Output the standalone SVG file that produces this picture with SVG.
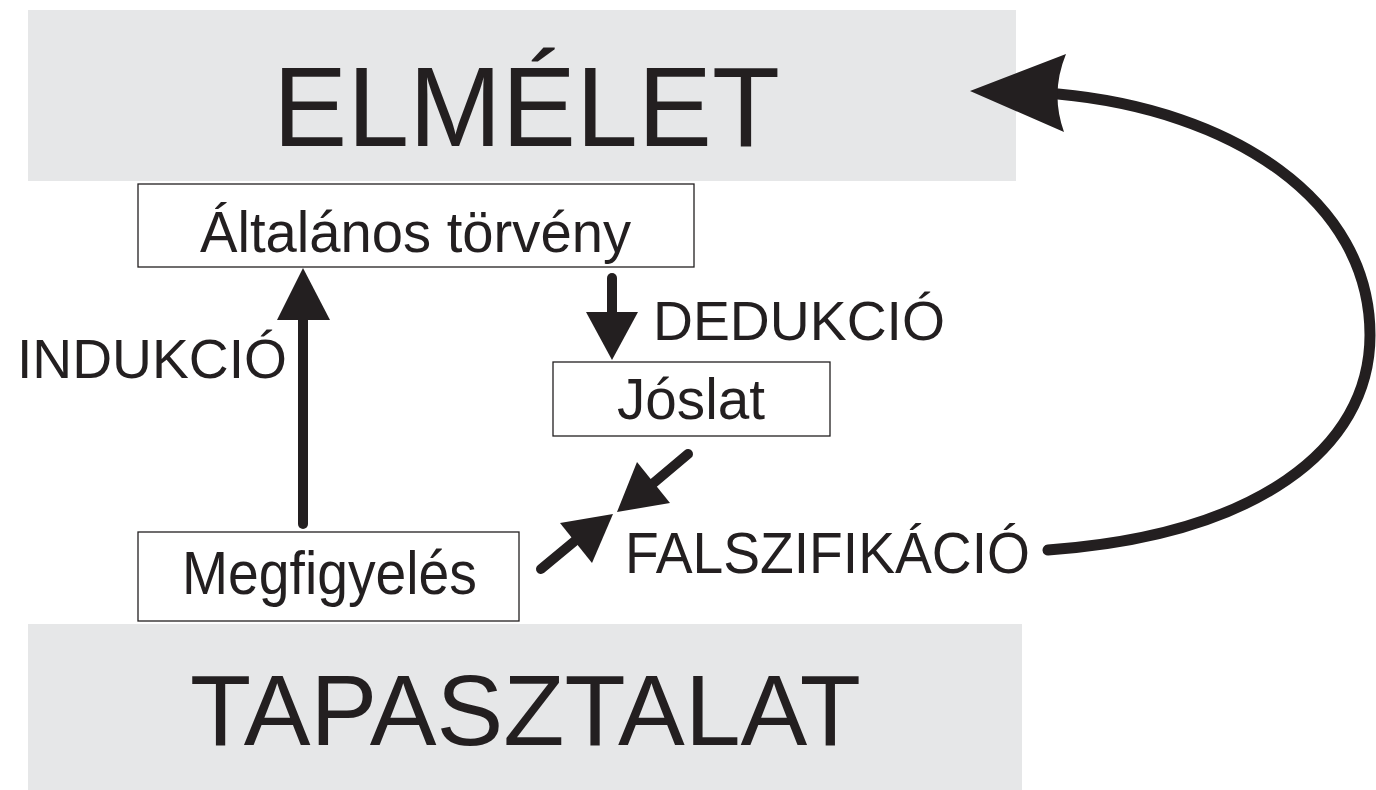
<svg xmlns="http://www.w3.org/2000/svg" width="1376" height="790" viewBox="0 0 1376 790">
  <style>
    .band { fill: #e6e7e8; }
    .box { fill: #ffffff; stroke: #231f20; stroke-width: 1.3; }
    .txt { font-family: "Liberation Sans", Arial, sans-serif; fill: #231f20; }
    .shaft { stroke: #231f20; stroke-width: 10; stroke-linecap: round; fill: none; }
    .loop { stroke-width: 11; }
    .head { fill: #231f20; }
  </style>
  <rect width="1376" height="790" fill="#ffffff"/>

  <g id="elmelet">
    <rect class="band" x="28" y="10" width="988" height="171"/>
    <text class="txt" x="273" y="146" font-size="113" textLength="507" lengthAdjust="spacingAndGlyphs">ELMÉLET</text>
  </g>

  <g id="tapasztalat">
    <rect class="band" x="28" y="624" width="994" height="166"/>
    <text class="txt" x="190" y="745" font-size="101" textLength="671" lengthAdjust="spacingAndGlyphs">TAPASZTALAT</text>
  </g>

  <g id="altalanos-torveny">
    <rect class="box" x="138" y="184" width="556" height="83"/>
    <text class="txt" x="200" y="252" font-size="58" textLength="431" lengthAdjust="spacingAndGlyphs">Általános törvény</text>
  </g>

  <g id="joslat">
    <rect class="box" x="553" y="362" width="277" height="74"/>
    <text class="txt" x="617" y="419" font-size="57" textLength="148" lengthAdjust="spacingAndGlyphs">Jóslat</text>
  </g>

  <g id="megfigyeles">
    <rect class="box" x="138" y="532" width="381" height="89"/>
    <text class="txt" x="182" y="594" font-size="61" textLength="295" lengthAdjust="spacingAndGlyphs">Megfigyelés</text>
  </g>

  <g id="labels">
    <text class="txt" x="17" y="378" font-size="56" textLength="270" lengthAdjust="spacingAndGlyphs">INDUKCIÓ</text>
    <text class="txt" x="653" y="340" font-size="55" textLength="292" lengthAdjust="spacingAndGlyphs">DEDUKCIÓ</text>
    <text class="txt" x="625" y="573" font-size="57" textLength="405" lengthAdjust="spacingAndGlyphs">FALSZIFIKÁCIÓ</text>
  </g>

  <g id="connectors">
    <!-- induction: observation up to general law -->
    <line class="shaft" x1="303" y1="524" x2="303" y2="316"/>
    <polygon class="head" points="303,268 277,320 330,320"/>

    <!-- deduction: general law down to prediction -->
    <line class="shaft" x1="612" y1="278" x2="612" y2="315"/>
    <polygon class="head" points="586,312 638,312 612,360"/>

    <!-- falsification: two opposing arrows meeting -->
    <line class="shaft" x1="688" y1="454" x2="650" y2="486"/>
    <polygon class="head" points="617,512 637,462 670,503"/>
    <line class="shaft" x1="541" y1="569" x2="576" y2="540"/>
    <polygon class="head" points="613,514 560,523 592,563"/>

    <!-- feedback loop back to theory -->
    <path class="shaft loop" d="M1048,550 C1255,535 1370,450 1370,335 C1370,200 1232,110 1058,94"/>
    <path class="head" d="M970,91 L1066,54 Q1050,93 1064,132 Z"/>
  </g>
</svg>
